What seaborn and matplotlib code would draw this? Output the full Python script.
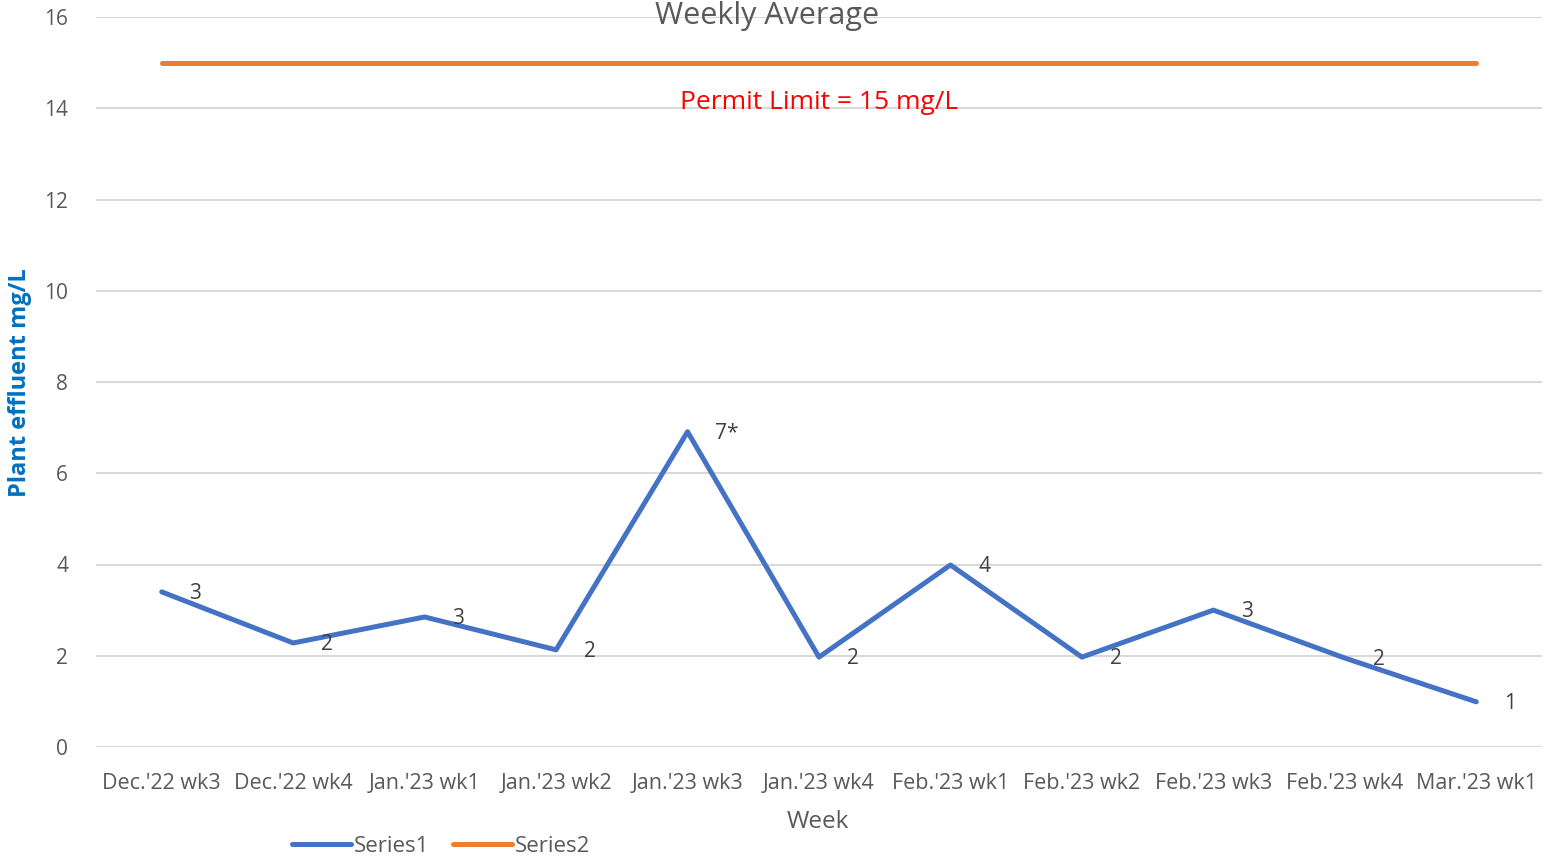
import matplotlib
matplotlib.use("Agg")
import matplotlib.pyplot as plt
import seaborn as sns
import pandas as pd
import numpy as np

weeks = ["Dec.'22 wk3", "Dec.'22 wk4", "Jan.'23 wk1", "Jan.'23 wk2", "Jan.'23 wk3",
         "Jan.'23 wk4", "Feb.'23 wk1", "Feb.'23 wk2", "Feb.'23 wk3", "Feb.'23 wk4",
         "Mar.'23 wk1"]
series1 = [3.4, 2.28, 2.85, 2.13, 6.91, 1.97, 3.99, 1.97, 3.0, 1.95, 0.99]
series1_labels = ["3", "2", "3", "2", "7*", "2", "4", "2", "3", "2", "1"]
series2 = [15] * len(weeks)
yticks = [0, 2, 4, 6, 8, 10, 12, 14, 16]

sns.set_theme(style="white")
plt.rcParams['font.family'] = ['Open Sans', 'DejaVu Sans']

fig = plt.figure(figsize=(15.55, 8.61), dpi=100)
ax = fig.add_axes([96/1555, 1 - 747/861, (1542-96)/1555, (747-17)/861])

x = np.arange(len(weeks))
df = pd.DataFrame({"x": np.concatenate([x, x]),
                   "y": series1 + series2,
                   "series": ["Series1"] * len(weeks) + ["Series2"] * len(weeks)})
sns.lineplot(data=df, x="x", y="y", hue="series", sort=False, ax=ax,
             palette={"Series1": "#4472C4", "Series2": "#ED7D31"},
             linewidth=3.6, solid_capstyle="round", solid_joinstyle="round")

ax.set_xlim(-0.5, len(weeks) - 0.5)
ax.set_ylim(0, 16)
ax.set_yticks(yticks)
ax.set_xticks(x)
ax.set_xticklabels(weeks, fontsize=15.5, color="#595959")
ax.tick_params(axis="y", labelsize=15, labelcolor="#595959", length=0, pad=20)
ax.tick_params(axis="x", length=0, pad=19)
ax.grid(axis="y", color="#d9d9d9", linewidth=1.5)
ax.grid(axis="x", visible=False)
for s in ax.spines.values():
    s.set_visible(False)
ax.set_axisbelow(True)

for xi, yi, lab in zip(x, series1, series1_labels):
    ax.annotate(lab, (xi, yi), xytext=(20, -1), textcoords="offset points",
                ha="left", va="center", fontsize=15, color="#404040")

ax.text(5, 14.12, "Permit Limit = 15 mg/L", color="#FF0000", fontsize=19,
        ha="center", va="center")

ax.set_xlabel("")
ax.set_ylabel("")
fig.text(818/1555, 1 - 822/861, "Week", fontsize=17.5, color="#595959",
         ha="center", va="center")
fig.text(20/1555, 1 - 383/861, "Plant effluent mg/L", fontsize=17, color="#0070C0",
         fontweight="bold", rotation=90, ha="center", va="center")

fig.text(767/1555, 0.999, "Weekly Average", fontsize=22, color="#595959",
         ha="center", va="top")

leg = ax.legend(loc="center", bbox_to_anchor=(441/1555, 1 - 846/861),
                bbox_transform=fig.transFigure, ncol=2, frameon=False,
                fontsize=16, handlelength=2.65, columnspacing=1.1,
                handletextpad=0.1, title=None)
for t in leg.get_texts():
    t.set_color("#595959")

fig.savefig("out.png", dpi=100)
